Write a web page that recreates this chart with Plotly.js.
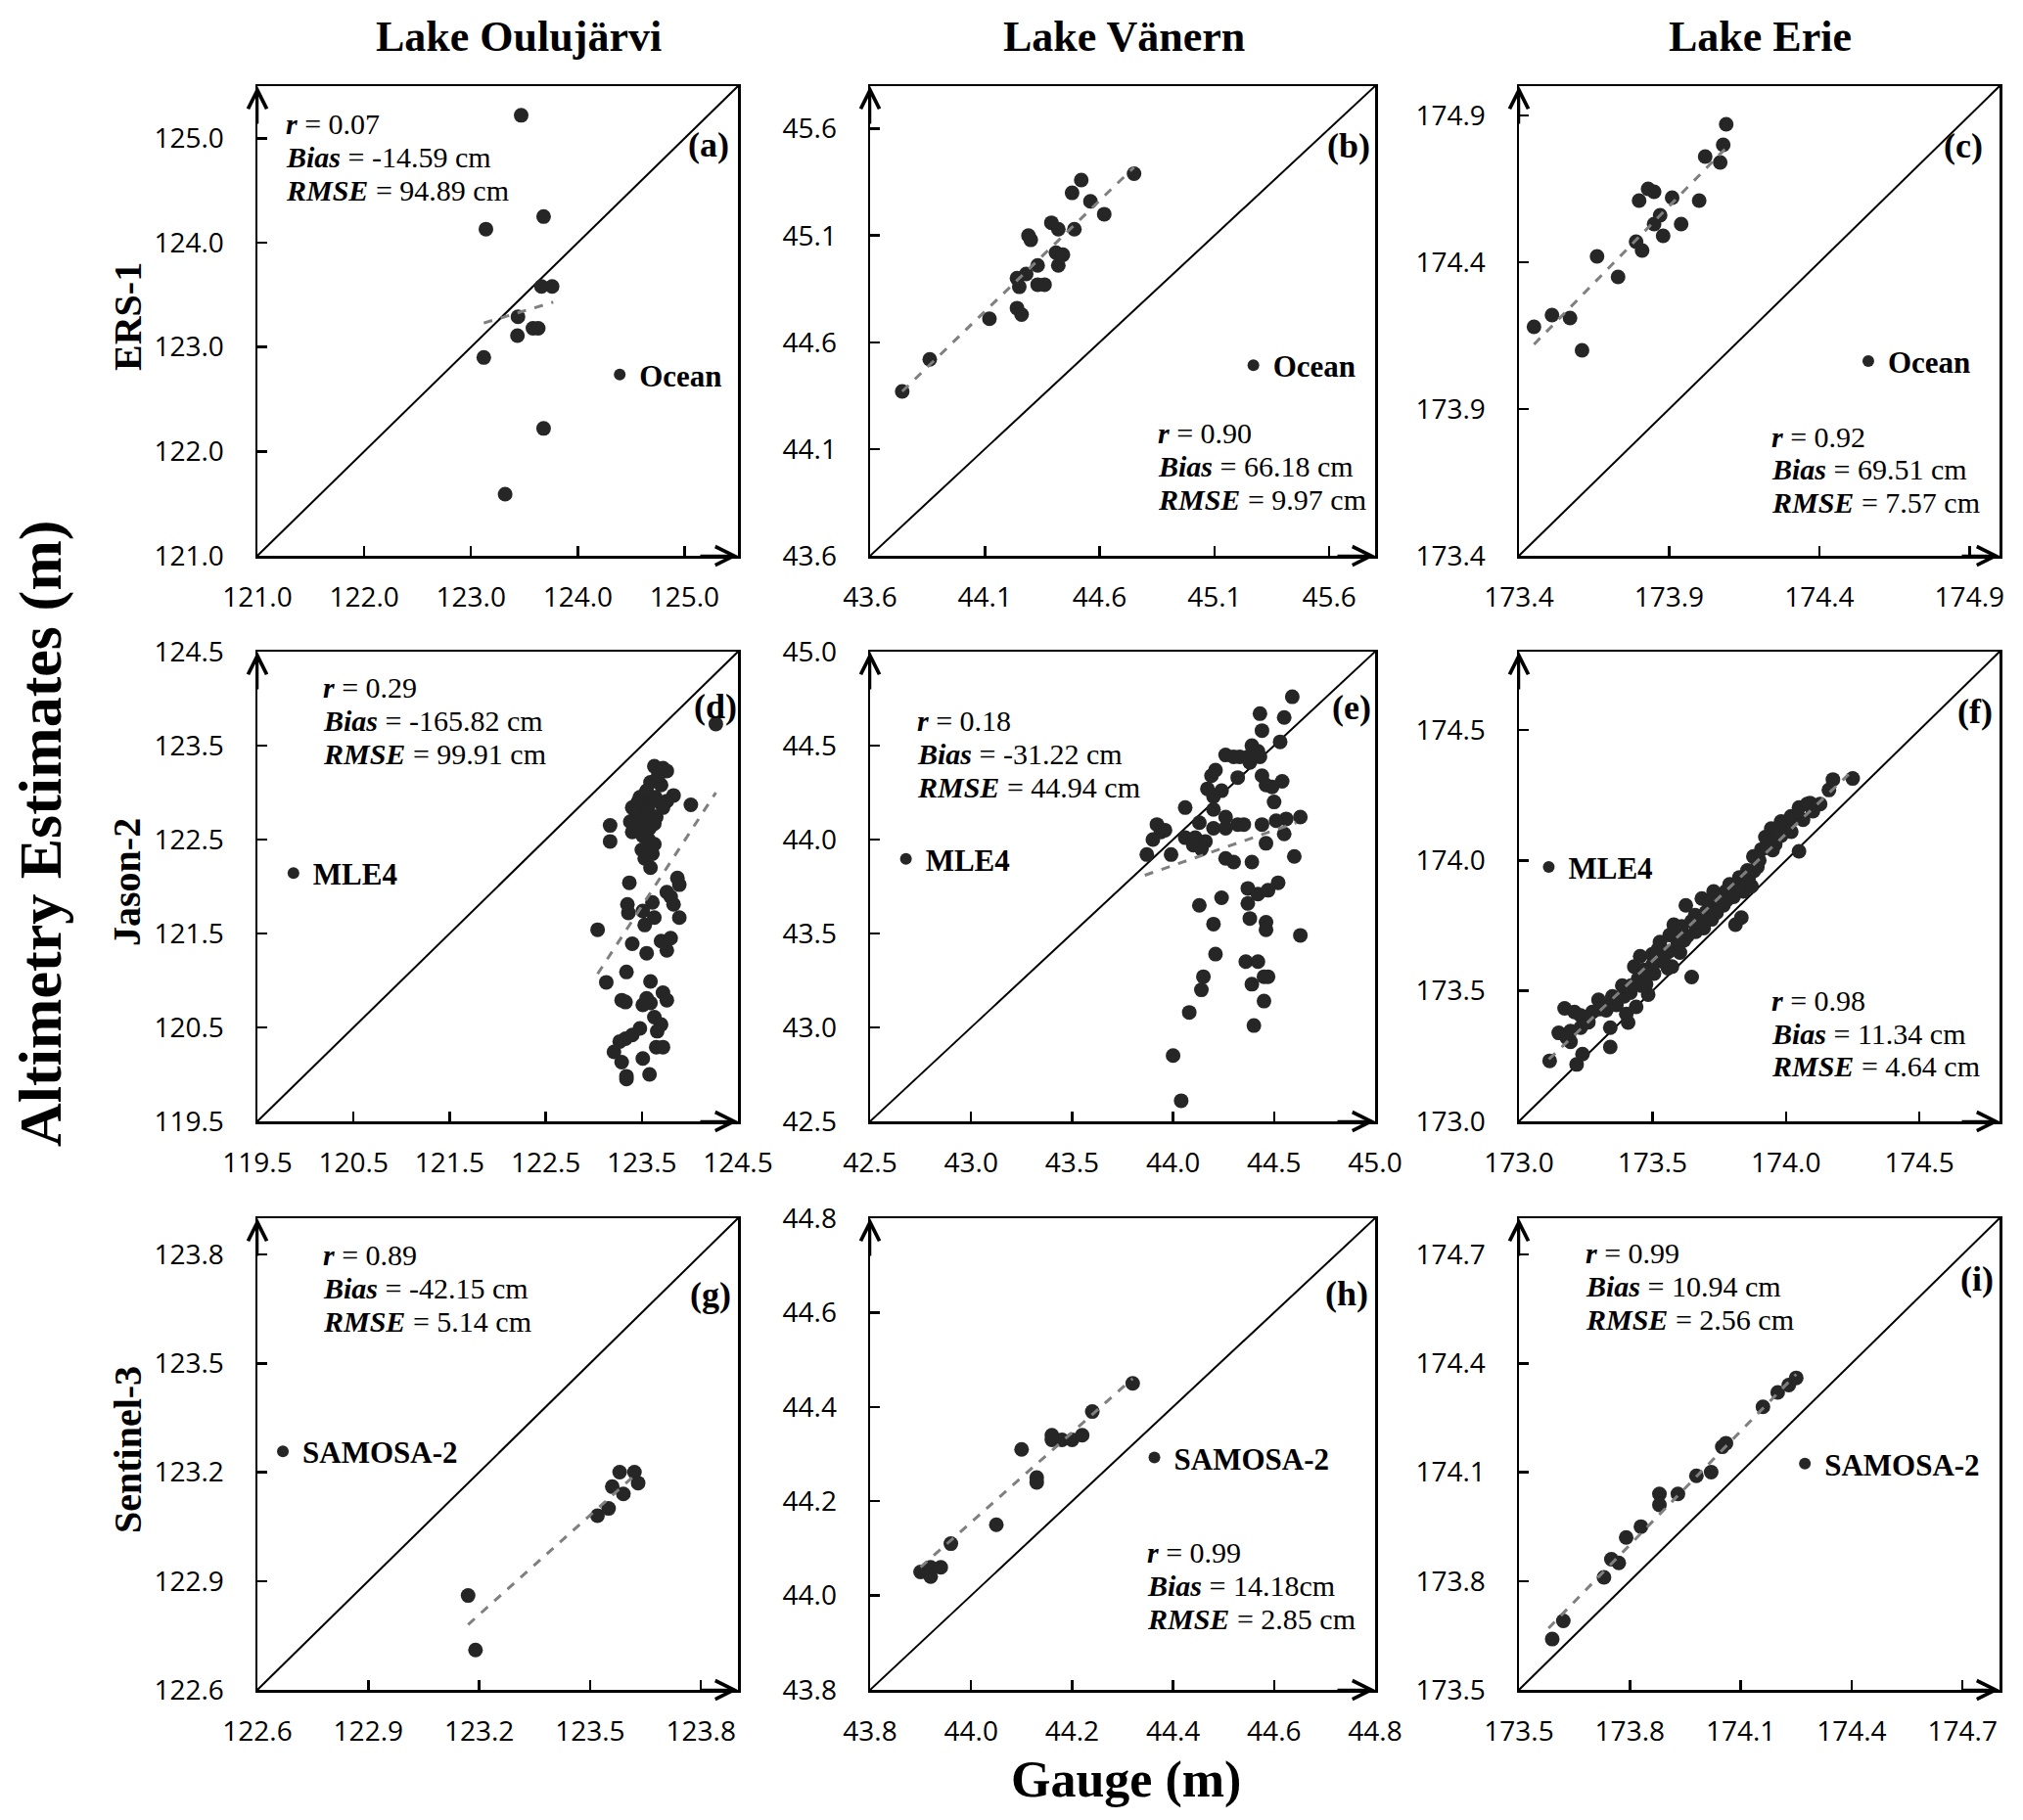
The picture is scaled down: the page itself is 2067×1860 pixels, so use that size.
<!DOCTYPE html>
<html>
<head>
<meta charset="utf-8">
<script src="https://cdn.plot.ly/plotly-3.0.1.min.js"></script>
<style>
  body { margin: 0; background: #fff; }
  #chart { width: 2067px; height: 1860px; }
</style>
</head>
<body>
<div id="chart"></div>
<script>
// ---- Lake Oulujärvi / ERS-1 (a)
const aGauge = [123.47, 123.14, 123.68, 123.66, 123.76, 123.44, 123.435, 123.58, 123.63, 123.12, 123.68, 123.32];
const aAlt   = [125.22, 124.13, 124.25, 123.58, 123.58, 123.29, 123.11, 123.18, 123.18, 122.90, 122.22, 121.59];
const aFitX = [123.12, 123.77], aFitY = [123.23, 123.43];

// ---- Lake Vänern / ERS-1 (b)
const bGauge = [43.74, 43.86, 44.12, 44.24, 44.26, 44.24, 44.25, 44.28, 44.29, 44.30, 44.33, 44.33, 44.36, 44.39, 44.42, 44.41, 44.44, 44.42, 44.48, 44.49, 44.52, 44.56, 44.62, 44.75];
const bAlt   = [44.37, 44.52, 44.71, 44.76, 44.73, 44.90, 44.86, 44.92, 45.10, 45.08, 44.96, 44.87, 44.87, 45.16, 45.13, 45.02, 45.01, 44.96, 45.30, 45.13, 45.36, 45.26, 45.20, 45.39];
const bFitX = [43.74, 44.75], bFitY = [44.37, 45.42];

// ---- Lake Erie / ERS-1 (c)
const cGauge = [173.45, 173.51, 173.57, 173.61, 173.66, 173.73, 173.79, 173.81, 173.80, 173.83, 173.85, 173.85, 173.87, 173.88, 173.91, 173.94, 174.00, 174.02, 174.07, 174.08, 174.09];
const cAlt   = [174.18, 174.22, 174.21, 174.10, 174.42, 174.35, 174.47, 174.44, 174.61, 174.65, 174.64, 174.53, 174.56, 174.49, 174.62, 174.53, 174.61, 174.76, 174.74, 174.80, 174.87];
const cFitX = [173.45, 174.09], cFitY = [174.12, 174.79];

// ---- Lake Oulujärvi / Jason-2 (d)
const dGauge = [124.27, 124.01, 123.63, 123.72, 123.76, 123.66, 123.59, 123.70, 123.53, 123.48, 123.51, 123.61, 123.83, 123.76, 123.72, 123.40, 123.44, 123.57, 123.65, 123.38,
  123.50, 123.63, 123.40, 123.51, 123.57, 123.63, 123.50, 123.61, 123.53, 123.59, 123.17, 123.17, 123.37, 123.87, 123.89, 123.76, 123.80, 123.83, 123.35, 123.36,
  123.61, 123.51, 123.63, 123.53, 123.89, 123.04, 123.40, 123.70, 123.80, 123.76, 123.55, 123.34, 123.13, 123.59, 123.72, 123.76, 123.29, 123.33, 123.55, 123.59,
  123.51, 123.63, 123.70, 123.66, 123.48, 123.40, 123.33, 123.27, 123.21, 123.29, 123.51, 123.65, 123.72, 123.34, 123.34, 123.58,
  123.55, 123.67, 123.46, 123.58, 123.64, 123.54];
const dAlt   = [123.73, 122.87, 123.28, 123.26, 123.23, 123.13, 123.11, 123.08, 122.98, 122.95, 122.87, 122.91, 122.97, 122.91, 122.84, 122.84, 122.76, 122.80, 122.74, 122.69,
  122.65, 122.67, 122.58, 122.54, 122.50, 122.45, 122.39, 122.35, 122.30, 122.20, 122.65, 122.48, 122.04, 122.09, 122.02, 121.94, 121.89, 121.81, 121.81, 121.72,
  121.83, 121.74, 121.67, 121.59, 121.67, 121.54, 121.39, 121.42, 121.45, 121.32, 121.29, 121.09, 120.98, 120.99, 120.87, 120.79, 120.79, 120.77, 120.81, 120.76,
  120.74, 120.61, 120.53, 120.46, 120.49, 120.42, 120.38, 120.35, 120.24, 120.13, 120.17, 120.29, 120.29, 119.98, 119.95, 120.00,
  123.02, 123.18, 122.90, 122.62, 122.95, 122.72];
const dFitX = [123.04, 124.27], dFitY = [121.07, 123.00];

// ---- Lake Vänern / Jason-2 (e)
const eGauge = [44.59, 44.43, 44.55, 44.44, 44.53, 44.39, 44.42, 44.26, 44.30, 44.33, 44.37, 44.43, 44.38, 44.21, 44.19, 44.32, 44.44, 44.46, 44.54, 44.49,
  44.17, 44.24, 44.20, 44.50, 44.06, 44.20, 44.26, 44.32, 44.35, 44.26, 44.44, 44.56, 44.63, 44.51, 44.55, 44.13, 44.20, 43.92, 43.94, 43.96,
  43.90, 44.06, 44.10, 44.14, 44.11, 44.16, 44.46, 43.99, 43.87, 44.14, 44.26, 44.30, 44.39, 44.60, 44.37, 44.42, 44.47, 44.52, 44.24, 44.13,
  44.37, 44.38, 44.46, 44.46, 44.20, 44.63, 44.21, 44.36, 44.42, 44.15, 44.14, 44.39, 44.45, 44.47, 44.45, 44.08, 44.40, 44.00, 44.04];
const eAlt   = [44.76, 44.67, 44.65, 44.58, 44.52, 44.50, 44.47, 44.45, 44.44, 44.44, 44.44, 44.44, 44.41, 44.37, 44.34, 44.33, 44.34, 44.29, 44.31, 44.28,
  44.27, 44.26, 44.23, 44.20, 44.17, 44.16, 44.12, 44.08, 44.08, 44.06, 44.08, 44.11, 44.12, 44.10, 44.03, 44.09, 44.06, 44.08, 44.04, 44.05,
  44.00, 44.01, 43.97, 43.96, 44.01, 43.99, 43.98, 43.92, 43.92, 43.95, 43.90, 43.88, 43.88, 43.91, 43.74, 43.71, 43.73, 43.77, 43.69, 43.65,
  43.66, 43.58, 43.56, 43.52, 43.55, 43.49, 43.39, 43.35, 43.35, 43.27, 43.20, 43.23, 43.27, 43.27, 43.14, 43.08, 43.01, 42.85, 42.61];
const eFitX = [43.86, 44.61], eFitY = [43.81, 44.09];

// ---- Lake Erie / Jason-2 (f)
const fGauge = [173.115, 173.216, 173.238, 173.149, 173.193, 173.171, 173.208, 173.231, 173.253, 173.275, 173.193, 173.231, 173.342, 173.342, 173.298, 173.320,
  173.350, 173.327, 173.365, 173.402, 173.409, 173.394, 173.417, 173.439, 173.446, 173.432, 173.454, 173.469, 173.484, 173.476, 173.499, 173.506,
  173.528, 173.536, 173.558, 173.573, 173.565, 173.580, 173.595, 173.603, 173.618, 173.647, 173.625, 173.647, 173.662, 173.677, 173.692, 173.685,
  173.707, 173.729, 173.722, 173.744, 173.759, 173.766, 173.789, 173.804, 173.811, 173.833, 173.826, 173.841, 173.856, 173.871, 173.878, 173.893,
  173.908, 173.923, 173.945, 173.960, 173.982, 174.004, 174.019, 174.049, 174.049, 174.079, 174.101, 174.128, 174.161, 174.176, 174.250, 173.387,
  173.521, 173.610, 173.714, 173.774, 173.952, 173.982, 174.064, 173.59, 173.66, 173.70, 173.74, 173.78, 173.80, 173.84, 173.86, 173.50,
  173.46, 173.56, 173.63, 173.90, 173.93, 173.97, 174.00, 174.03, 174.09, 173.68, 173.72,
  173.18, 173.26, 173.30, 173.37, 173.42, 173.48, 173.54, 173.62, 173.70, 173.76, 173.82, 173.88, 173.95, 174.02];
const fAlt   = [173.232, 173.218, 173.258, 173.339, 173.305, 173.433, 173.419, 173.406, 173.399, 173.419, 173.346, 173.359, 173.285, 173.359, 173.466, 173.446,
  173.479, 173.426, 173.446, 173.412, 173.379, 173.479, 173.493, 173.439, 173.546, 173.593, 173.633, 173.580, 173.486, 173.526, 173.640, 173.566,
  173.687, 173.613, 173.587, 173.593, 173.714, 173.754, 173.680, 173.647, 173.694, 173.553, 173.828, 173.767, 173.727, 173.781, 173.741, 173.854,
  173.808, 173.881, 173.774, 173.841, 173.868, 173.828, 173.908, 173.861, 173.754, 173.781, 173.935, 173.881, 173.962, 173.901, 174.015, 173.975,
  174.042, 174.089, 174.122, 174.062, 174.149, 174.116, 174.169, 174.203, 174.035, 174.216, 174.189, 174.216, 174.270, 174.310, 174.314, 173.520,
  173.660, 173.747, 173.841, 173.881, 174.082, 174.095, 174.156, 173.70, 173.79, 173.80, 173.80, 173.85, 173.89, 173.93, 173.93, 173.60,
  173.52, 173.65, 173.71, 174.00, 174.05, 174.10, 174.13, 174.16, 174.22, 173.76, 173.79,
  173.32, 173.38, 173.43, 173.47, 173.52, 173.57, 173.62, 173.70, 173.77, 173.84, 173.90, 173.96, 174.04, 174.11];
const fFitX = [173.112, 174.235], fFitY = [173.238, 174.330];

// ---- Lake Oulujärvi / Sentinel-3 (g)
const gGauge = [123.17, 123.19, 123.52, 123.55, 123.56, 123.59, 123.58, 123.62, 123.63];
const gAlt   = [122.86, 122.71, 123.08, 123.10, 123.16, 123.14, 123.20, 123.20, 123.17];
const gFitX = [123.17, 123.63], gFitY = [122.78, 123.20];

// ---- Lake Vänern / Sentinel-3 (h)
const hGauge = [43.90, 43.92, 43.92, 43.94, 43.96, 44.05, 44.10, 44.13, 44.13, 44.16, 44.16, 44.18, 44.20, 44.22, 44.24, 44.32];
const hAlt   = [44.05, 44.06, 44.04, 44.06, 44.11, 44.15, 44.31, 44.25, 44.24, 44.34, 44.33, 44.33, 44.33, 44.34, 44.39, 44.45];
const hFitX = [43.90, 44.32], hFitY = [44.06, 44.46];

// ---- Lake Erie / Sentinel-3 (i)
const iGauge = [173.59, 173.62, 173.73, 173.75, 173.77, 173.79, 173.83, 173.88, 173.88, 173.93, 173.98, 174.02, 174.05, 174.06, 174.16, 174.20, 174.23, 174.25];
const iAlt   = [173.64, 173.69, 173.81, 173.86, 173.85, 173.92, 173.95, 174.04, 174.01, 174.04, 174.09, 174.10, 174.17, 174.18, 174.28, 174.32, 174.34, 174.36];
const iFitX = [173.58, 174.25], iFitY = [173.67, 174.37];

// statistics text: r, bias, rmse
const rValues    = ['0.07', '0.90', '0.92', '0.29', '0.18', '0.98', '0.89', '0.99', '0.99'];
const biasValues = ['-14.59 cm', '66.18 cm', '69.51 cm', '-165.82 cm', '-31.22 cm', '11.34 cm', '-42.15 cm', '14.18cm', '10.94 cm'];
const rmseValues = ['94.89 cm', '9.97 cm', '7.57 cm', '99.91 cm', '44.94 cm', '4.64 cm', '5.14 cm', '2.85 cm', '2.56 cm'];

const lakes = ['Lake Oulujärvi', 'Lake Vänern', 'Lake Erie'];
const missions = ['ERS-1', 'Jason-2', 'Sentinel-3'];
const retrackers = ['Ocean', 'MLE4', 'SAMOSA-2'];

// panel setup: axis range, tick values, and where the text sits (fractions of the panel)
const panels = [
  { tag: '(a)', x: aGauge, y: aAlt, fx: aFitX, fy: aFitY, range: [121, 125.5], ticks: [121, 122, 123, 124, 125],
    stats: [0.055, 0.081], tagPos: [0.938, 0.124], legPos: [0.754, 0.615] },
  { tag: '(b)', x: bGauge, y: bAlt, fx: bFitX, fy: bFitY, range: [43.6, 45.8], ticks: [43.6, 44.1, 44.6, 45.1, 45.6],
    stats: [0.565, 0.739], tagPos: [0.948, 0.127], legPos: [0.759, 0.595] },
  { tag: '(c)', x: cGauge, y: cAlt, fx: cFitX, fy: cFitY, range: [173.4, 175.0], ticks: [173.4, 173.9, 174.4, 174.9],
    stats: [0.522, 0.746], tagPos: [0.924, 0.127], legPos: [0.727, 0.586] },
  { tag: '(d)', x: dGauge, y: dAlt, fx: dFitX, fy: dFitY, range: [119.5, 124.5], ticks: [119.5, 120.5, 121.5, 122.5, 123.5, 124.5],
    stats: [0.133, 0.077], tagPos: [0.953, 0.117], legPos: [0.075, 0.472] },
  { tag: '(e)', x: eGauge, y: eAlt, fx: eFitX, fy: eFitY, range: [42.5, 45.0], ticks: [42.5, 43.0, 43.5, 44.0, 44.5, 45.0],
    stats: [0.089, 0.147], tagPos: [0.953, 0.119], legPos: [0.071, 0.442] },
  { tag: '(f)', x: fGauge, y: fAlt, fx: fFitX, fy: fFitY, range: [173.0, 174.8], ticks: [173.0, 173.5, 174.0, 174.5],
    stats: [0.522, 0.742], tagPos: [0.949, 0.128], legPos: [0.062, 0.459] },
  { tag: '(g)', x: gGauge, y: gAlt, fx: gFitX, fy: gFitY, range: [122.6, 123.9], ticks: [122.6, 122.9, 123.2, 123.5, 123.8],
    stats: [0.133, 0.077], tagPos: [0.942, 0.162], legPos: [0.053, 0.495] },
  { tag: '(h)', x: hGauge, y: hAlt, fx: hFitX, fy: hFitY, range: [43.8, 44.8], ticks: [43.8, 44.0, 44.2, 44.4, 44.6, 44.8],
    stats: [0.545, 0.708], tagPos: [0.943, 0.160], legPos: [0.563, 0.508] },
  { tag: '(i)', x: iGauge, y: iAlt, fx: iFitX, fy: iFitY, range: [173.5, 174.8], ticks: [173.5, 173.8, 174.1, 174.4, 174.7],
    stats: [0.134, 0.073], tagPos: [0.953, 0.128], legPos: [0.595, 0.521] }
];

const W = 2067, H = 1860;
const cols = [[263, 754], [889, 1405], [1552, 2043]];
const rows = [[88, 568], [666, 1146], [1245, 1727]];
const lineStep = 0.0705;   // spacing between the three stat lines
const serif = 'Liberation Serif';

const traces = [];
const layout = {
  width: W, height: H,
  margin: { l: 0, r: 0, t: 0, b: 0 },
  paper_bgcolor: '#fff', plot_bgcolor: '#fff',
  showlegend: true,
  annotations: []
};

panels.forEach(function (p, i) {
  const col = i % 3, row = Math.floor(i / 3);
  const n = i === 0 ? '' : String(i + 1);
  const xa = 'x' + n, ya = 'y' + n;
  const legName = 'legend' + n;
  const [l, r] = cols[col];
  const [t, b] = rows[row];

  const axisBase = {
    range: p.range, tickvals: p.ticks, tickformat: '.1f',
    ticks: 'inside', ticklen: 10, tickwidth: 2.5, tickcolor: '#000',
    showline: true, linewidth: 2.5, linecolor: '#000', mirror: true,
    showgrid: false, zeroline: false, fixedrange: true,
    tickfont: { family: 'Open Sans', size: 28, color: '#000' }
  };
  layout['xaxis' + n] = Object.assign({}, axisBase, { domain: [l / W, r / W], anchor: ya, ticklabelstandoff: 16 });
  layout['yaxis' + n] = Object.assign({}, axisBase, { domain: [1 - b / H, 1 - t / H], anchor: xa, ticklabelstandoff: 26 });

  // 1:1 line
  traces.push({ x: p.range, y: p.range, xaxis: xa, yaxis: ya, mode: 'lines',
    line: { color: '#000', width: 2 }, showlegend: false, hoverinfo: 'skip' });
  // satellite vs gauge points
  traces.push({ x: p.x, y: p.y, xaxis: xa, yaxis: ya, mode: 'markers', name: retrackers[row],
    marker: { size: 15, color: '#262626' }, legend: legName, showlegend: true });
  // fitted trend
  traces.push({ x: p.fx, y: p.fy, xaxis: xa, yaxis: ya, mode: 'lines',
    line: { color: '#7f7f7f', width: 3, dash: 'dash' }, showlegend: false, hoverinfo: 'skip' });

  // legend (retracker name) placed inside the panel
  const lx = l + p.legPos[0] * (r - l);
  const ly = t + p.legPos[1] * (b - t);
  layout[legName] = {
    x: (lx - 20) / W, y: 1 - ly / H, xanchor: 'left', yanchor: 'middle',
    bgcolor: 'rgba(0,0,0,0)', borderwidth: 0, itemsizing: 'constant',
    font: { family: serif, size: 31, color: '#000', weight: 'bold' }
  };

  // statistics
  const statLines = [
    '<b><i>r</i></b> = ' + rValues[i],
    '<b><i>Bias</i></b> = ' + biasValues[i],
    '<b><i>RMSE</i></b> = ' + rmseValues[i]
  ];
  statLines.forEach(function (txt, k) {
    layout.annotations.push({
      xref: xa + ' domain', yref: ya + ' domain',
      x: p.stats[0], y: 1 - (p.stats[1] + k * lineStep),
      xanchor: 'left', yanchor: 'middle', showarrow: false, text: txt,
      font: { family: serif, size: 30, color: '#000' }
    });
  });

  // panel tag
  layout.annotations.push({
    xref: xa + ' domain', yref: ya + ' domain',
    x: p.tagPos[0], y: 1 - p.tagPos[1], xanchor: 'center', yanchor: 'middle',
    showarrow: false, text: '<b>' + p.tag + '</b>',
    font: { family: serif, size: 36, color: '#000' }
  });

  // axis arrows
  const arrow = { xref: xa + ' domain', yref: ya + ' domain', text: '', showarrow: true,
    arrowhead: 5, arrowsize: 1.5, arrowwidth: 2.5, arrowcolor: '#000', standoff: 0 };
  layout.annotations.push(Object.assign({}, arrow, { x: 0, y: 1, ax: 0, ay: 40 }));
  layout.annotations.push(Object.assign({}, arrow, { x: 1, y: 0, ax: -40, ay: 0 }));
});

// column titles
const titleX = [530, 1148, 1798];
lakes.forEach(function (name, c) {
  layout.annotations.push({ xref: 'paper', yref: 'paper', x: titleX[c] / W, y: 1 - 37 / H,
    xanchor: 'center', yanchor: 'middle', showarrow: false, text: '<b>' + name + '</b>',
    font: { family: serif, size: 44, color: '#000' } });
});

// row titles
missions.forEach(function (name, rIdx) {
  const cy = (rows[rIdx][0] + rows[rIdx][1]) / 2 - 4;
  layout.annotations.push({ xref: 'paper', yref: 'paper', x: 130 / W, y: 1 - cy / H,
    xanchor: 'center', yanchor: 'middle', textangle: -90, showarrow: false, text: '<b>' + name + '</b>',
    font: { family: serif, size: 40, color: '#000' } });
});

// shared axis titles
layout.annotations.push({ xref: 'paper', yref: 'paper', x: 42 / W, y: 1 - 852 / H,
  xanchor: 'center', yanchor: 'middle', textangle: -90, showarrow: false,
  text: '<b>Altimetry Estimates (m)</b>', font: { family: serif, size: 62, color: '#000' } });
layout.annotations.push({ xref: 'paper', yref: 'paper', x: 1150 / W, y: 1 - 1819 / H,
  xanchor: 'center', yanchor: 'middle', showarrow: false,
  text: '<b>Gauge (m)</b>', font: { family: serif, size: 52, color: '#000' } });

Plotly.newPlot('chart', traces, layout, { staticPlot: true, displayModeBar: false });
</script>
</body>
</html>
